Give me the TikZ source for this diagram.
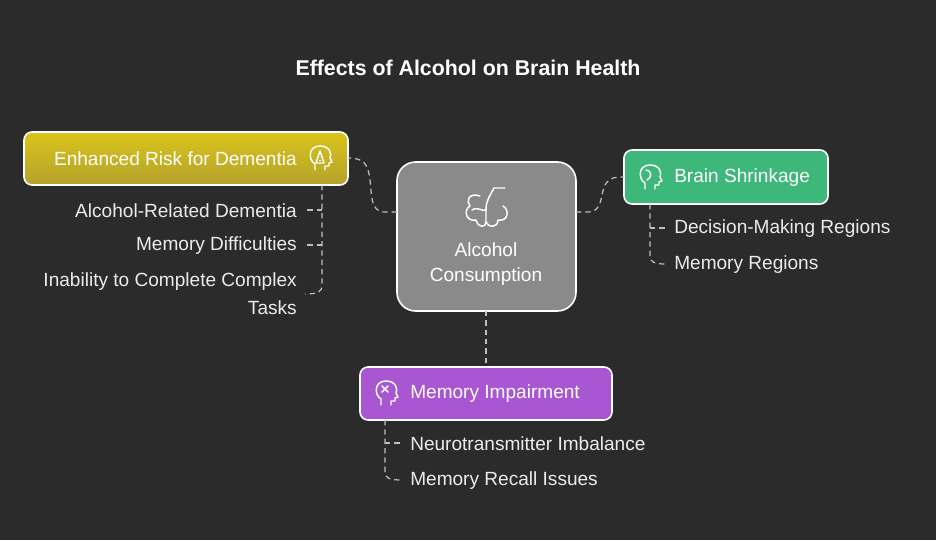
\documentclass[tikz,border=0pt]{standalone}
\usepackage{fontspec}
\setmainfont{Liberation Sans}
\definecolor{ytop}{RGB}{218,196,28}
\definecolor{ybot}{RGB}{180,162,44}
\definecolor{gfill}{RGB}{62,184,122}
\definecolor{pfill}{RGB}{168,86,210}
\definecolor{cfill}{RGB}{138,138,138}
\definecolor{bg}{RGB}{43,43,43}
\begin{document}
\begin{tikzpicture}[x=0.75pt,y=-0.75pt,
  box/.style={draw=white,line width=1.2pt,rounded corners=6pt},
  lbl/.style={text=white,font=\fontsize{14.3}{17}\selectfont,inner sep=0pt},
  itm/.style={text=white!92!black,font=\fontsize{14.3}{17}\selectfont,inner sep=0pt},
  dsh/.style={draw=white!75!black,dashed,dash pattern=on 4pt off 3pt,line width=0.9pt},
  ico/.style={draw=white,line width=1.1pt,line cap=round,line join=round}]
\fill[bg] (0,0) rectangle (936,540);
\node[text=white,font=\bfseries\fontsize{16}{19}\selectfont] (title) at (468,68) {Effects of Alcohol on Brain Health};
% boxes
\path[box,top color=ytop,bottom color=ybot] (24,132) rectangle (348,185);
\coordinate (yR) at (348,158); \coordinate (yB) at (322,185);
\path[box,fill=cfill,rounded corners=14pt] (397,162) rectangle (576,311);
\coordinate (cL) at (397,212); \coordinate (cR) at (576,212); \coordinate (cB) at (486,311);
\path[box,fill=gfill] (624,150) rectangle (828,204);
\coordinate (gL) at (624,177); \coordinate (gB) at (650,204);
\path[box,fill=pfill] (360,367) rectangle (612,420);
\coordinate (pT) at (486,367); \coordinate (pB) at (385,420);
% labels
\node[lbl,anchor=east] (yl) at (297,159) {Enhanced Risk for Dementia};
\node[lbl,anchor=west] (gl) at (674,178) {Brain Shrinkage};
\node[lbl,anchor=west] (pl) at (410,394) {Memory Impairment};
\node[lbl,align=center] (cl) at (486,264) {Alcohol\\[2pt]Consumption};
% items
\node[itm,anchor=east] (l1) at (297,211) {Alcohol-Related Dementia};
\node[itm,anchor=east] (l2) at (297,246) {Memory Difficulties};
\node[itm,anchor=east,align=right] (l3) at (297,294) {Inability to Complete Complex\\[4pt]Tasks};
\node[itm,anchor=west] (r1) at (674,229) {Decision-Making Regions};
\node[itm,anchor=west] (r2) at (674,265) {Memory Regions};
\node[itm,anchor=west] (b1) at (410,444) {Neurotransmitter Imbalance};
\node[itm,anchor=west] (b2) at (410,481) {Memory Recall Issues};
% connectors
\draw[dsh] (cL) -- (385,212) .. controls (370,212) and (372,195) .. (370,180) .. controls (368,165) and (365,158) .. (yR);
\draw[dsh] (cR) -- (588,212) .. controls (603,212) and (600,195) .. (605,185) .. controls (610,177) and (615,177) .. (gL);
\draw[dsh] (cB) -- (pT);
\draw[dsh] (yB) -- (322,285) .. controls (322,292) and (318,294) .. (305,294);
\draw[dsh] (322,210) -- (305,210); \draw[dsh] (322,245) -- (305,245);
\draw[dsh] (gB) -- (650,256) .. controls (650,262) and (654,264) .. (666,264);
\draw[dsh] (650,228) -- (666,228);
\draw[dsh] (pB) -- (385,472) .. controls (385,478) and (389,480) .. (402,480);
\draw[dsh] (385,443) -- (402,443);
% icons: heads
\foreach \x/\y in {320/158,650/177,386/393}{
  \draw[ico] (\x-5,\y+12) -- (\x-5,\y+6) .. controls (\x-12,\y+2) and (\x-12,\y-12) .. (\x,\y-12)
    .. controls (\x+10,\y-12) and (\x+12,\y-4) .. (\x+10,\y) -- (\x+12,\y+4) -- (\x+9,\y+5) -- (\x+9,\y+8) -- (\x+5,\y+8) -- (\x+5,\y+12);
}
\draw[ico] (316,163) -- (320,151) -- (324,163) -- cycle; \fill[white] (320,160.5) circle (0.8);
\draw[ico] (646,170) .. controls (652,170) and (652,178) .. (647,180);
\draw[ico] (382,386) -- (388,392) (388,386) -- (382,392);
% center icon: brain with straw
\draw[ico] (480,196) .. controls (468,192) and (466,202) .. (470,206) .. controls (463,210) and (466,222) .. (476,220)
  .. controls (478,228) and (486,228) .. (486,222) .. controls (488,228) and (498,228) .. (498,220)
  .. controls (508,222) and (510,210) .. (503,206);
\draw[ico] (486,222) -- (486,210) .. controls (486,200) and (490,196) .. (494,188) -- (505,188);
\draw[ico] (472,210) .. controls (478,206) and (482,212) .. (486,210);
\end{tikzpicture}
\end{document}
